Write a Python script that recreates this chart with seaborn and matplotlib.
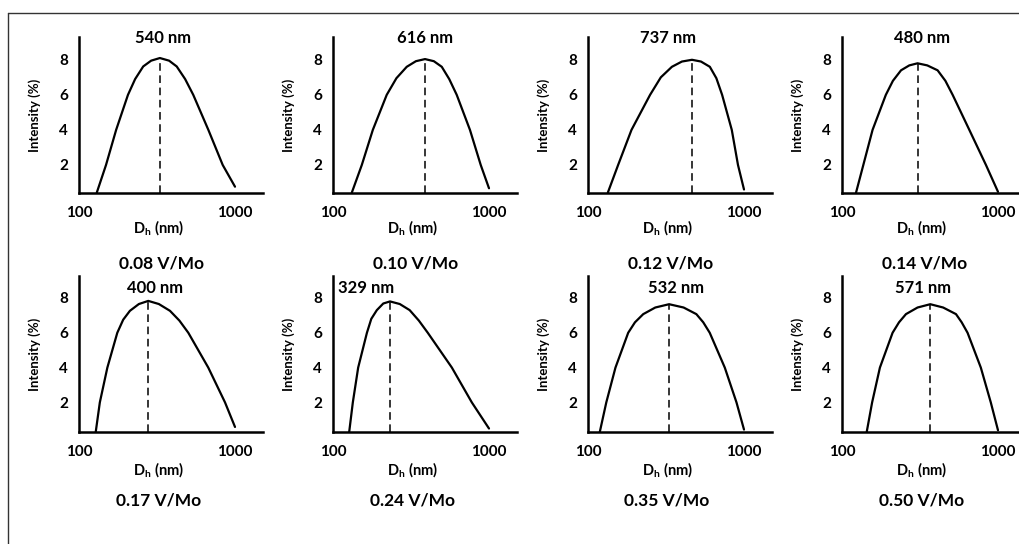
import seaborn as sns
import matplotlib.pyplot as plt
import matplotlib.ticker as mticker
from matplotlib.lines import Line2D

sns.set_theme(style="white")
plt.rcParams['font.family'] = ['Lato', 'DejaVu Sans']
plt.rcParams['font.weight'] = 'bold'
plt.rcParams['mathtext.fontset'] = 'custom'
plt.rcParams['mathtext.rm'] = 'Lato:bold'
plt.rcParams['mathtext.bf'] = 'Lato:bold'

# peak labels and V/Mo ratio of each sample
size_labels = ["540 nm", "616 nm", "737 nm", "480 nm",
               "400 nm", "329 nm", "532 nm", "571 nm"]
ratio_labels = ["0.08 V/Mo", "0.10 V/Mo", "0.12 V/Mo", "0.14 V/Mo",
                "0.17 V/Mo", "0.24 V/Mo", "0.35 V/Mo", "0.50 V/Mo"]

# size distributions: diameter (nm), intensity (%)
d_008 = [130, 149, 173, 206, 229, 258, 290, 330, 378, 423, 479, 540, 675, 834, 1000]
i_008 = [0.42, 2.0, 4.0, 6.0, 6.9, 7.62, 7.95, 8.1, 7.95, 7.62, 6.9, 6.0, 4.0, 2.0, 0.76]
d_010 = [132, 153, 180, 221, 255, 297, 340, 389, 443, 498, 556, 621, 755, 885, 1000]
i_010 = [0.42, 2.0, 4.0, 6.0, 6.95, 7.6, 7.92, 8.04, 7.92, 7.6, 6.9, 6.0, 4.0, 2.0, 0.67]
d_012 = [134, 156, 190, 250, 293, 345, 400, 464, 530, 604, 665, 724, 835, 915, 1000]
i_012 = [0.42, 2.0, 4.0, 6.0, 7.0, 7.6, 7.9, 8.0, 7.9, 7.6, 6.95, 6.0, 4.0, 2.0, 0.6]
d_014 = [123, 137, 157, 191, 212, 239, 270, 305, 352, 410, 460, 512, 655, 837, 1000]
i_014 = [0.42, 2.0, 4.0, 6.0, 6.8, 7.4, 7.68, 7.8, 7.68, 7.4, 6.8, 6.0, 4.0, 2.0, 0.47]
d_017 = [128, 136, 152, 176, 192, 212, 242, 278, 325, 383, 440, 502, 674, 863, 1000]
i_017 = [0.3, 2.0, 4.0, 6.0, 6.75, 7.26, 7.65, 7.83, 7.65, 7.26, 6.7, 6.0, 4.0, 2.0, 0.59]
d_024 = [127, 134, 145, 165, 176, 191, 210, 232, 268, 310, 355, 405, 578, 776, 1000]
i_024 = [0.3, 2.0, 4.0, 6.0, 6.8, 7.3, 7.68, 7.8, 7.65, 7.3, 6.7, 6.0, 4.0, 2.0, 0.5]
d_035 = [119, 131, 150, 181, 200, 226, 270, 331, 410, 495, 548, 603, 753, 895, 1000]
i_035 = [0.3, 2.0, 4.0, 6.0, 6.6, 7.07, 7.45, 7.64, 7.45, 7.07, 6.6, 6.0, 4.0, 2.0, 0.44]
d_050 = [144, 156, 175, 211, 232, 257, 305, 368, 445, 538, 585, 638, 776, 899, 1000]
i_050 = [0.3, 2.0, 4.0, 6.0, 6.6, 7.07, 7.45, 7.64, 7.45, 7.07, 6.6, 6.0, 4.0, 2.0, 0.4]

curves = [(d_008, i_008), (d_010, i_010), (d_012, i_012), (d_014, i_014),
          (d_017, i_017), (d_024, i_024), (d_035, i_035), (d_050, i_050)]

# layout (pixels of the 1020x544 canvas)
W, H = 1020, 544
col_x = [79, 333, 588, 842]
row_y = [193, 432]
ax_w, ax_h = 184, 156
ylims = [(0.4, 9.3), (0.3, 9.26)]
title_x = [345, 389, 326, 326, 307, 163, 366, 330]
title_y = [9.26, 8.57]
ratio_x = [0.45, 0.43]
ratio_y = [-0.455, -0.436]
xlab_y = [-0.224, -0.244]

fig = plt.figure(figsize=(W / 100, H / 100), dpi=100)

for k, (d, inten) in enumerate(curves):
    r, c = k // 4, k % 4
    ax = fig.add_axes([col_x[c] / W, 1 - row_y[r] / H, ax_w / W, ax_h / H])
    ax.set_xscale('log')
    sns.lineplot(x=d, y=inten, ax=ax, color='black', lw=1.6,
                 estimator=None, sort=False)
    pk = inten.index(max(inten))
    ax.vlines(d[pk], ylims[r][0], inten[pk], colors='black', lw=1.1,
              linestyles=(0, (5, 3)))
    ax.set_xlim(100, 10 ** (2 + ax_w / 156))
    ax.set_ylim(*ylims[r])
    ax.set_xticks([100, 1000])
    ax.set_xticklabels(['100', '1000'])
    ax.xaxis.set_minor_locator(mticker.NullLocator())
    ax.set_yticks([2, 4, 6, 8])
    ax.set_yticklabels(['2', '4', '6', '8'])
    for s in ['top', 'right']:
        ax.spines[s].set_visible(False)
    for s in ['left', 'bottom']:
        ax.spines[s].set_color('black')
        ax.spines[s].set_linewidth(1.8)
    ax.tick_params(axis='both', direction='inout', length=9, width=1.5,
                   color='black', labelsize=11, labelcolor='black')
    ax.tick_params(axis='y', pad=3.5)
    ax.tick_params(axis='x', pad=5)
    ax.set_xlabel('')
    ax.set_ylabel('')
    ax.text(-0.24, 0.5, 'Intensity (%)', rotation=90, transform=ax.transAxes,
            ha='center', va='center', fontsize=9.5, color='black')
    ax.text(0.43, xlab_y[r], r'D$_\mathrm{h}$ (nm)', transform=ax.transAxes,
            ha='center', va='center', fontsize=10.5, color='black')
    ax.text(ratio_x[r], ratio_y[r], ratio_labels[k], transform=ax.transAxes,
            ha='center', va='center', fontsize=12.5, color='black')
    ax.text(title_x[k], title_y[r], size_labels[k], ha='center', va='center',
            fontsize=12, color='black', clip_on=False)

# frame around the figure (only left and top edges fall inside the image)
fig.add_artist(Line2D([8 / W, 8 / W], [0, 1 - 13 / H], color='#333333', lw=1))
fig.add_artist(Line2D([8 / W, 1], [1 - 13 / H, 1 - 13 / H], color='#333333', lw=1))

fig.savefig('out.png', dpi=100)
